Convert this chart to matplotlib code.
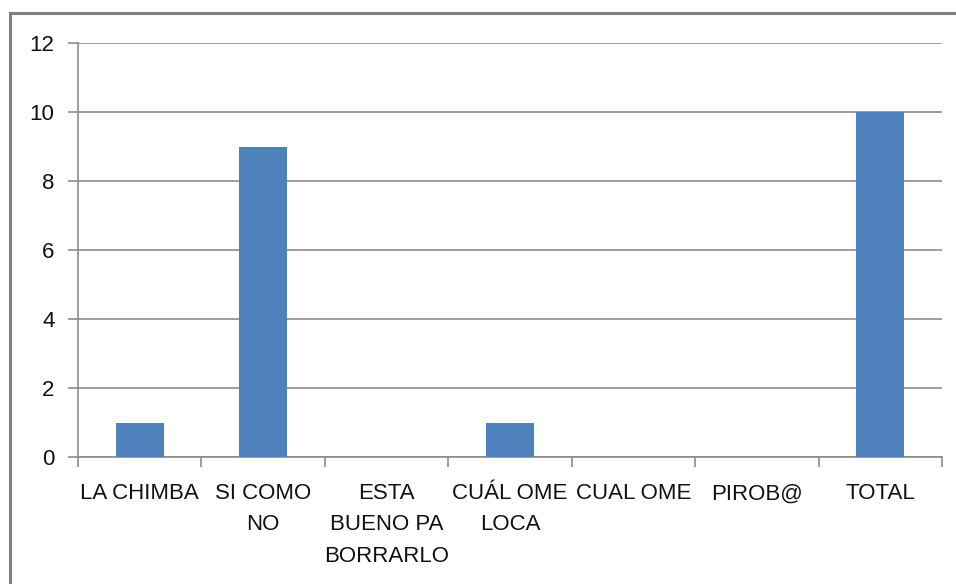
import numpy as np
import matplotlib.pyplot as plt
from matplotlib.lines import Line2D

categorias = ['LA CHIMBA', 'SI COMO\nNO', 'ESTA\nBUENO PA\nBORRARLO', 'CUÁL OME\nLOCA',
              'CUAL OME', 'PIROB@', 'TOTAL']
valores = [1, 9, 0, 1, 0, 0, 10]
yticks = [0, 2, 4, 6, 8, 10, 12]

plt.rcParams['font.family'] = ['Liberation Sans', 'DejaVu Sans']

fig = plt.figure(figsize=(9.56, 5.84), dpi=100)
ax = fig.add_axes([78 / 956, 1 - 457 / 584, 864 / 956, 414 / 584])

gris = '#8c8c8c'
x = np.arange(len(categorias))
ax.bar(x, valores, width=0.39, color='#4f81bd', zorder=3)

ax.set_xlim(-0.5, len(categorias) - 0.5)
ax.set_ylim(0, 12)
ax.set_yticks(yticks)
ax.set_xticks(x)
ax.set_xticklabels(categorias, fontsize=16, color='#111111', linespacing=1.63)
ax.set_xticks(np.arange(len(categorias) + 1) - 0.5, minor=True)
ax.tick_params(axis='x', which='major', length=0, pad=19)
ax.tick_params(axis='x', which='minor', length=7, color=gris, width=1.2)
ax.tick_params(axis='y', labelsize=16, labelcolor='#111111', length=7, color=gris,
               width=1.2, pad=10)

ax.grid(axis='y', color=gris, linewidth=1.2, zorder=0)
for s in ['top', 'right']:
    ax.spines[s].set_visible(False)
for s in ['left', 'bottom']:
    ax.spines[s].set_color(gris)
    ax.spines[s].set_linewidth(1.2)

# marco del grafico (solo se ve arriba y a la izquierda)
x0, y0 = 9.5 / 956, 1 - 12.5 / 584
fig.add_artist(Line2D([x0, x0], [0, y0], color='#7f7f7f', linewidth=2.2, transform=fig.transFigure))
fig.add_artist(Line2D([x0, 1], [y0, y0], color='#7f7f7f', linewidth=2.2, transform=fig.transFigure))

fig.savefig('out.png', dpi=100)
